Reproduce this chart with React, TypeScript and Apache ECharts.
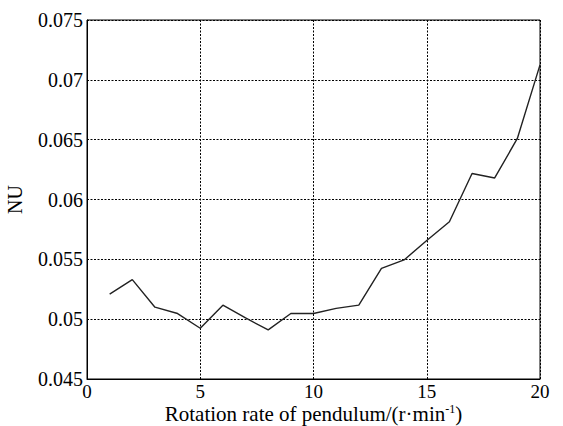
import React, { useEffect, useRef } from "react";
import * as echarts from "echarts";

const rotationRates = [1, 2, 3, 4, 5, 6, 7, 8, 9, 10, 11, 12, 13, 14, 15, 16, 17, 18, 19, 20];
const nuValues = [
  0.0521, 0.0533, 0.0510, 0.05047, 0.04924, 0.05117, 0.0501, 0.0491, 0.05047, 0.05047,
  0.0509, 0.05117, 0.05425, 0.05495, 0.05657, 0.05814, 0.06217, 0.0618, 0.0651, 0.07125,
];

const FONT = "Liberation Serif";

export default function App() {
  const ref = useRef<HTMLDivElement>(null);
  useEffect(() => {
    if (!ref.current) return;
    const chart = echarts.init(ref.current, undefined, { renderer: "svg" });
    chart.setOption({
      animation: false,
      backgroundColor: "#fff",
      textStyle: { fontFamily: FONT },
      grid: {
        left: 87,
        right: 23,
        top: 20,
        bottom: 47,
        outerBoundsMode: "none",
        containLabel: false,
        show: true,
        borderColor: "#000",
        borderWidth: 1,
        backgroundColor: "transparent",
      },
      xAxis: {
        type: "value",
        min: 0,
        max: 20,
        interval: 5,
        axisLine: { lineStyle: { color: "#000", width: 1 } },
        axisTick: { show: false },
        axisLabel: { color: "#000", fontSize: 19, lineHeight: 19, fontFamily: FONT, margin: 3 },
        splitLine: { show: true, lineStyle: { color: "#000", type: [2, 1.5], width: 1 } },
        name: "{n|Rotation rate of pendulum/(r·min}{s|-1}{n|)}",
        nameLocation: "middle",
        nameGap: 24,
        nameMoveOverlap: false,
        nameTextStyle: {
          fontFamily: FONT,
          rich: {
            n: { fontSize: 21, lineHeight: 21, fontFamily: FONT, color: "#000", verticalAlign: "middle" },
            s: { fontSize: 12, lineHeight: 12, fontFamily: FONT, color: "#000", verticalAlign: "top" },
          },
        },
      },
      yAxis: {
        type: "value",
        min: 0.045,
        max: 0.075,
        interval: 0.005,
        axisLine: { lineStyle: { color: "#000", width: 1 } },
        axisTick: { show: false },
        axisLabel: {
          color: "#000",
          fontSize: 20,
          fontFamily: FONT,
          margin: 4,
          formatter: (v: number) => parseFloat(v.toFixed(3)).toString(),
        },
        splitLine: { show: true, lineStyle: { color: "#000", type: [2, 1.5], width: 1 } },
        name: "NU",
        nameLocation: "middle",
        nameGap: 62,
        nameMoveOverlap: false,
        nameTextStyle: { fontSize: 20, fontFamily: FONT, color: "#000" },
      },
      series: [
        {
          type: "line",
          data: rotationRates.map((x, i) => [x, nuValues[i]]),
          symbol: "none",
          lineStyle: { color: "#222", width: 1.4 },
        },
      ],
    });
    return () => chart.dispose();
  }, []);
  return (
    <div
      ref={ref}
      style={{ position: "fixed", left: 0, top: 0, width: 563, height: 426 }}
    />
  );
}
